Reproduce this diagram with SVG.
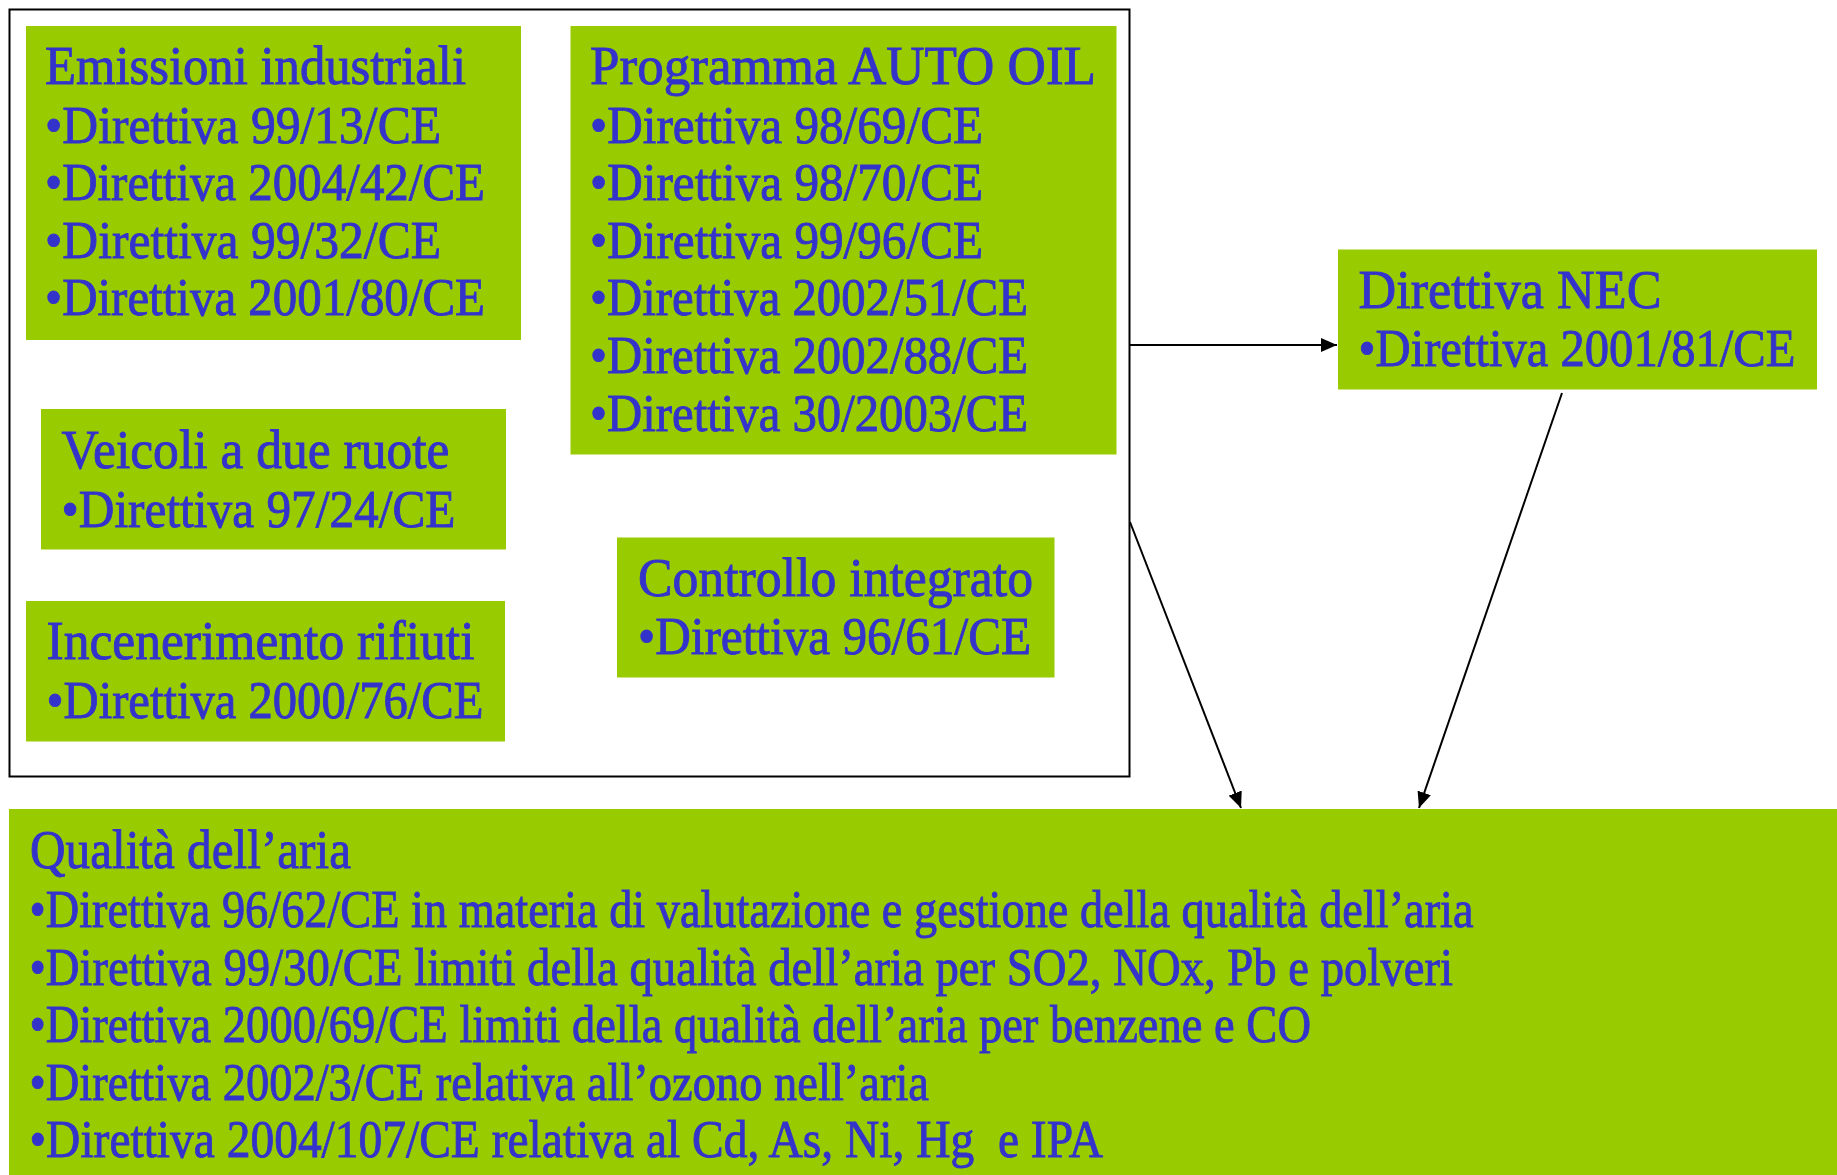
<svg xmlns="http://www.w3.org/2000/svg" width="1837" height="1175" viewBox="0 0 1837 1175">
<style>
.box{fill:#99CC00;stroke:none}
.t{font-family:"Liberation Serif","Times New Roman",serif;fill:#3333CC;stroke:#3333CC;stroke-width:0.9px;font-size:53px}
.h{font-size:55px}
.conn{stroke:#000;stroke-width:2;fill:none}
</style>
<defs>
<marker id="arr" markerUnits="userSpaceOnUse" markerWidth="17" markerHeight="14" refX="16" refY="7" orient="auto">
<path d="M0,0 L16,7 L0,14 z" fill="#000"/>
</marker>
</defs>
<rect width="1837" height="1175" fill="#fff"/>
<rect id="frame" x="9.5" y="9.5" width="1120" height="767" fill="none" stroke="#000" stroke-width="2"/>

<g id="emissioni">
<rect class="box" x="26" y="26" width="495" height="314"/>
<text class="t h" x="45" y="84" textLength="421" lengthAdjust="spacingAndGlyphs">Emissioni industriali</text>
<text class="t" x="45" y="143" textLength="396" lengthAdjust="spacingAndGlyphs">•Direttiva 99/13/CE</text>
<text class="t" x="45" y="200" textLength="440" lengthAdjust="spacingAndGlyphs">•Direttiva 2004/42/CE</text>
<text class="t" x="45" y="258" textLength="396" lengthAdjust="spacingAndGlyphs">•Direttiva 99/32/CE</text>
<text class="t" x="45" y="315" textLength="440" lengthAdjust="spacingAndGlyphs">•Direttiva 2001/80/CE</text>
</g>

<g id="autooil">
<rect class="box" x="570.5" y="26" width="546" height="428.5"/>
<text class="t h" x="590" y="84" textLength="506" lengthAdjust="spacingAndGlyphs">Programma AUTO OIL</text>
<text class="t" x="590" y="143" textLength="393" lengthAdjust="spacingAndGlyphs">•Direttiva 98/69/CE</text>
<text class="t" x="590" y="200" textLength="393" lengthAdjust="spacingAndGlyphs">•Direttiva 98/70/CE</text>
<text class="t" x="590" y="258" textLength="393" lengthAdjust="spacingAndGlyphs">•Direttiva 99/96/CE</text>
<text class="t" x="590" y="315" textLength="438" lengthAdjust="spacingAndGlyphs">•Direttiva 2002/51/CE</text>
<text class="t" x="590" y="373" textLength="438" lengthAdjust="spacingAndGlyphs">•Direttiva 2002/88/CE</text>
<text class="t" x="590" y="431" textLength="438" lengthAdjust="spacingAndGlyphs">•Direttiva 30/2003/CE</text>
</g>

<g id="veicoli">
<rect class="box" x="41" y="409" width="465" height="140.5"/>
<text class="t h" x="61.5" y="468" textLength="388" lengthAdjust="spacingAndGlyphs">Veicoli a due ruote</text>
<text class="t" x="61.5" y="527" textLength="394" lengthAdjust="spacingAndGlyphs">•Direttiva 97/24/CE</text>
</g>

<g id="incenerimento">
<rect class="box" x="26" y="601" width="479" height="140.5"/>
<text class="t h" x="46.5" y="659" textLength="428" lengthAdjust="spacingAndGlyphs">Incenerimento rifiuti</text>
<text class="t" x="46.5" y="718" textLength="437" lengthAdjust="spacingAndGlyphs">•Direttiva 2000/76/CE</text>
</g>

<g id="controllo">
<rect class="box" x="617" y="537.5" width="437.5" height="140"/>
<text class="t h" x="638" y="596" textLength="395" lengthAdjust="spacingAndGlyphs">Controllo integrato</text>
<text class="t" x="638" y="654" textLength="393" lengthAdjust="spacingAndGlyphs">•Direttiva 96/61/CE</text>
</g>

<g id="nec">
<rect class="box" x="1338" y="249.5" width="479" height="140"/>
<text class="t h" x="1358.5" y="308" textLength="303" lengthAdjust="spacingAndGlyphs">Direttiva NEC</text>
<text class="t" x="1358.5" y="366" textLength="437" lengthAdjust="spacingAndGlyphs">•Direttiva 2001/81/CE</text>
</g>

<g id="qualita">
<rect class="box" x="9" y="809" width="1828" height="366"/>
<text class="t h" x="30" y="868" textLength="321" lengthAdjust="spacingAndGlyphs">Qualità dell’aria</text>
<text class="t" x="29.5" y="927" textLength="1444" lengthAdjust="spacingAndGlyphs">•Direttiva 96/62/CE in materia di valutazione e gestione della qualità dell’aria</text>
<text class="t" x="29.5" y="984.5" textLength="1423.5" lengthAdjust="spacingAndGlyphs">•Direttiva 99/30/CE limiti della qualità dell’aria per SO2, NOx, Pb e polveri</text>
<text class="t" x="29.5" y="1042" textLength="1281.5" lengthAdjust="spacingAndGlyphs">•Direttiva 2000/69/CE limiti della qualità dell’aria per benzene e CO</text>
<text class="t" x="29.5" y="1099.5" textLength="899.5" lengthAdjust="spacingAndGlyphs">•Direttiva 2002/3/CE relativa all’ozono nell’aria</text>
<text class="t" x="29.5" y="1157" textLength="1073.5" lengthAdjust="spacingAndGlyphs" xml:space="preserve">•Direttiva 2004/107/CE relativa al Cd, As, Ni, Hg  e IPA</text>
</g>

<g id="connectors">
<line class="conn" x1="1130" y1="345" x2="1337" y2="345" marker-end="url(#arr)"/>
<line class="conn" x1="1130" y1="522" x2="1241" y2="808" marker-end="url(#arr)"/>
<line class="conn" x1="1562" y1="393" x2="1419" y2="808" marker-end="url(#arr)"/>
</g>
</svg>
